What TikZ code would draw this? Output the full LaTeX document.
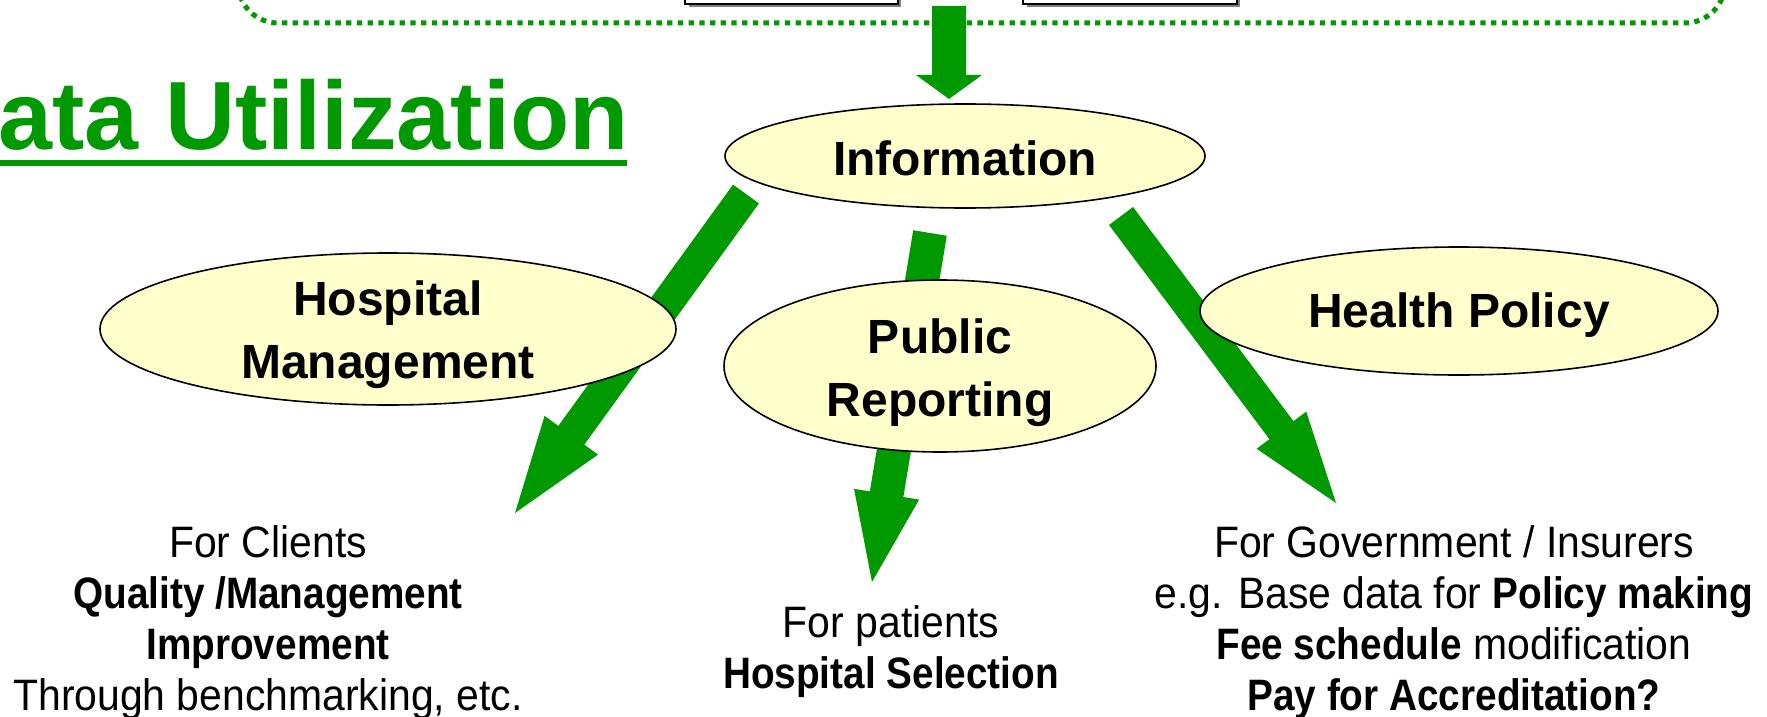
\documentclass[tikz,border=0pt]{standalone}
\usepackage{fontspec}
\setmainfont{Liberation Sans}
\newfontfamily\narrowfont{Liberation Sans}[FakeStretch=0.93,
    BoldFeatures={FakeStretch=0.88}]
\usetikzlibrary{shapes.geometric}
\usetikzlibrary{calc}
\definecolor{dugreen}{HTML}{009900}
\definecolor{bubblefill}{HTML}{FFFFCC}

% block arrow: tail, tip, half shaft, half head, head length
\newcommand{\flowarrow}[5]{%
    \coordinate (fa-base) at ($(#2)!#5pt!(#1)$);
    \fill[dugreen] ($(#1)!#3pt!90:(#2)$) -- ($(fa-base)!#3pt!90:(#2)$)
        -- ($(fa-base)!#4pt!90:(#2)$) -- (#2) -- ($(fa-base)!#4pt!-90:(#2)$)
        -- ($(fa-base)!#3pt!-90:(#2)$) -- ($(#1)!#3pt!-90:(#2)$) -- cycle;
}

\begin{document}
\begin{tikzpicture}[x=1pt, y=-1pt,
    bubble/.style={ellipse, draw=black, line width=1.6pt, fill=bubblefill,
        inner sep=0pt},
    bubbletext/.style={inner sep=0pt, align=center,
        font=\fontsize{48}{63}\selectfont\bfseries},
    usage/.style={inner sep=0pt, align=center,
        font=\narrowfont\fontsize{44}{51}\selectfont},
    srcbox/.style={fill=white, draw=black, line width=1.6pt}]
    \useasboundingbox (0,0) rectangle (1767,717);
    \clip (0,0) rectangle (1767,717);

    % frame of the data sources (cut at the top)
    \draw[dugreen, line width=5pt, dash pattern=on 5.3pt off 5.4pt,
        rounded corners=40pt] (238,-140) rectangle (1725,23);
    \fill[black!50] (689,-60) rectangle (901,7);
    \draw[srcbox] (685,-60) rectangle (898,4);
    \fill[black!50] (1027,-60) rectangle (1240,7);
    \draw[srcbox] (1023,-60) rectangle (1237,4);

    \node[anchor=base west, inner sep=0pt, text=dugreen,
        font=\fontsize{97}{110}\selectfont\bfseries] (title) at (-2,149) {ata Utilization};
    \draw[dugreen, line width=6pt] (0,163) -- (627,163);

    \coordinate (srctail) at (949,6);
    \coordinate (srctip) at (949,99);
    \coordinate (hosptail) at (746,194);
    \coordinate (hosptip) at (515,513);
    \coordinate (reptail) at (930,233);
    \coordinate (reptip) at (872,582);
    \coordinate (poltail) at (1121,216);
    \coordinate (poltip) at (1336,503);

    \flowarrow{srctail}{srctip}{17}{33}{24}
    \flowarrow{hosptail}{hosptip}{16}{33}{96}
    \flowarrow{reptail}{reptip}{17}{33}{89}
    \flowarrow{poltail}{poltip}{15}{31}{91}

    \node[bubble, minimum width=480pt, minimum height=104pt] (info) at (965,156) {};
    \node[bubble, minimum width=576pt, minimum height=152pt] (hosp) at (388,329) {};
    \node[bubble, minimum width=432pt, minimum height=172pt] (pubrep) at (940,366) {};
    \node[bubble, minimum width=518pt, minimum height=128pt] (policy) at (1459,311) {};
    \node[bubbletext] (infotext) at ([yshift=-2pt]info.center) {Information};
    \node[bubbletext] (hosptext) at ([yshift=-6pt]hosp.center) {Hospital\\Management};
    \node[bubbletext] (pubreptext) at ([yshift=-7pt]pubrep.center) {Public\\Reporting};
    \node[bubbletext] (policytext) at ([yshift=-4pt]policy.center) {Health Policy};

    \node[usage] (clients) at (268,623) {For Clients\\\textbf{Quality /Management}\\
        \textbf{Improvement}\\Through benchmarking, etc.};
    \node[usage] (patients) at (891,652) {For patients\\\textbf{Hospital Selection}};
    \node[usage] (govt) at (1454,623) {For Government / Insurers\\
        e.g. Base data for \textbf{Policy making}\\
        \textbf{Fee schedule} modification\\\textbf{Pay for Accreditation?}};

\end{tikzpicture}
\end{document}
